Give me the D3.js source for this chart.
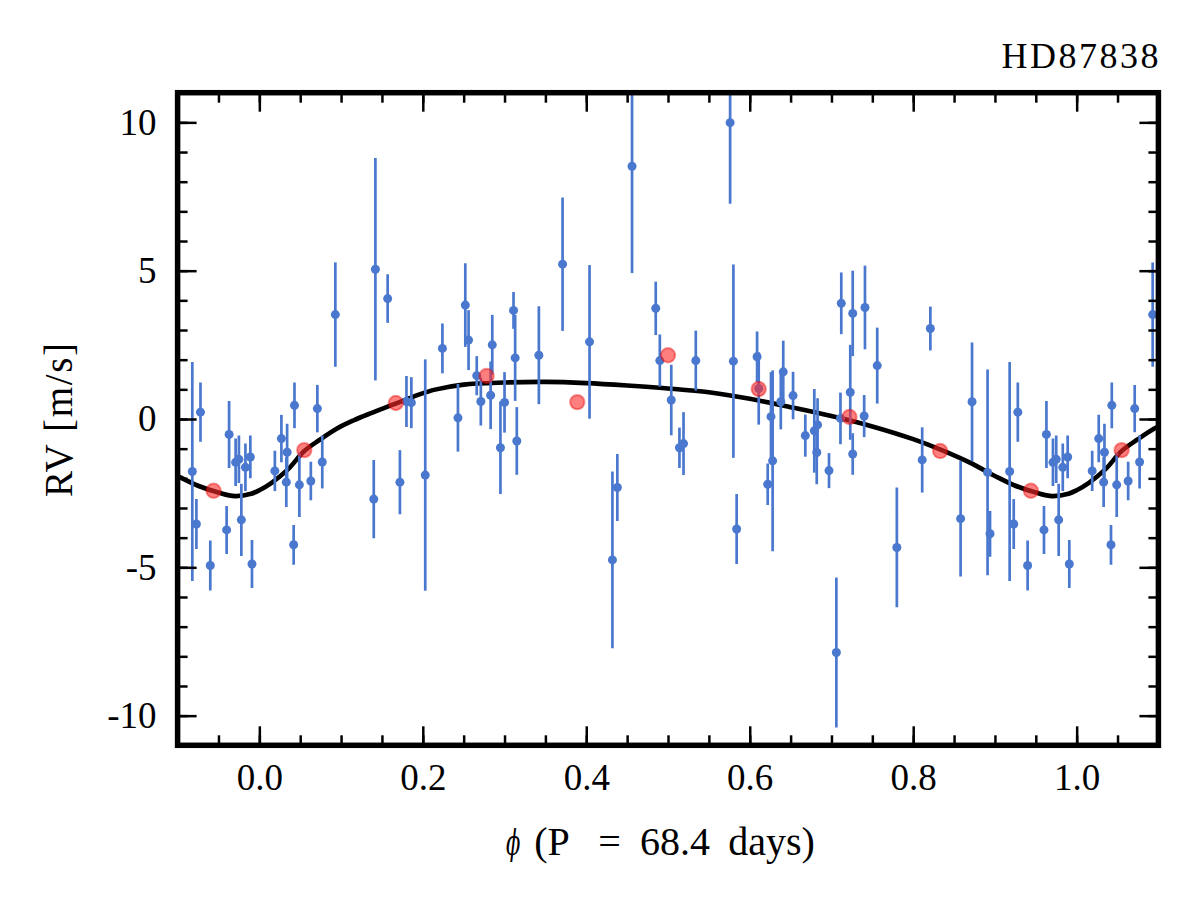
<!DOCTYPE html>
<html lang="en">
<head>
<meta charset="UTF-8">
<title>HD87838 phased RV</title>
<script src="https://cdn.jsdelivr.net/npm/d3@7"></script>
<style>
  body { margin: 0; background: #fff; }
  text { font-family: "Liberation Serif", "DejaVu Serif", serif; fill: #000; }
</style>
</head>
<body>
<svg></svg>
<script>
// observed RVs folded on P = 68.4 d  (phase, rv [m/s], error)
var obsPhase = [0.019,0.027,0.033,0.034,0.042,0.043,0.049,0.063,0.071,0.077,0.093,
  0.140,0.142,0.157,0.172,0.180,0.186,0.203,0.224,0.243,0.252,0.256,0.266,0.271,
  0.283,0.285,0.295,0.300,0.311,0.313,0.315,0.342,0.371,0.404,0.432,0.438,0.456,
  0.485,0.490,0.504,0.514,0.519,0.534,0.576,0.580,0.584,0.609,0.611,0.622,0.626,
  0.628,0.638,0.641,0.653,0.668,0.679,0.682,0.683,0.697,0.706,0.711,0.712,0.723,
  0.726,0.726,0.740,0.741,0.756,0.780,0.811,0.821,0.858,0.872,0.891,0.894,0.918,
  0.923,0.928,0.940,0.960,0.963,0.971,0.975,0.978,0.983,0.989,0.991];
var obsRV = [-1.75,-0.66,-2.13,-1.12,-4.24,0.46,-2.22,-2.09,0.35,-1.45,3.52,
  -2.70,5.05,4.06,-2.13,0.59,0.55,-1.89,2.38,0.04,3.84,2.66,1.46,0.59,
  0.80,2.50,-0.97,0.56,3.66,2.06,-0.74,2.15,5.22,2.60,-4.75,-2.31,8.52,
  3.73,1.97,0.64,-0.97,-0.83,1.97,9.99,1.95,-3.71,2.10,1.03,-2.20,0.08,
  -1.41,0.58,1.59,0.79,-0.56,-0.40,-1.13,-0.20,-1.74,-7.87,0.02,3.90,0.90,
  3.56,-1.18,0.10,3.76,1.80,-4.33,-1.38,3.05,-3.36,0.58,-1.80,-3.87,-1.77,
  -3.54,0.23,-4.94,-3.74,-0.52,-1.46,-1.36,-3.40,-1.63,-1.28,-4.89];
var obsErr = [0.68,0.80,0.84,0.96,0.67,0.77,1.08,0.65,0.80,0.89,1.76,
  1.32,3.75,0.82,1.08,0.86,0.86,3.90,0.84,1.14,1.41,1.01,0.66,0.81,
  1.14,1.01,1.56,1.02,0.62,1.45,1.14,1.65,2.25,2.59,2.98,1.13,3.60,
  0.90,0.88,1.19,0.68,1.06,1.01,2.73,3.26,1.18,0.85,1.22,0.70,1.50,
  3.05,0.93,1.05,0.80,0.71,1.41,1.07,0.90,0.59,2.53,0.87,1.04,1.60,
  1.44,0.70,0.71,1.41,1.28,2.02,1.10,0.74,1.95,2.00,3.47,0.77,3.69,
  0.84,1.00,0.84,0.81,1.13,0.80,0.80,1.22,0.80,0.72,0.81];

// binned RVs
var binPhase = [0.055,0.167,0.278,0.389,0.500,0.611,0.722,0.833,0.944];
var binRV = [-1.05,0.54,1.45,0.57,2.15,1.01,0.07,-1.08,-2.42];

// Keplerian model
var modelPhase = [0.000,0.015,0.035,0.055,0.075,0.095,0.115,0.135,0.165,0.195,0.215,
  0.250,0.300,0.350,0.400,0.450,0.500,0.550,0.600,0.650,0.700,0.750,0.800,
  0.835,0.870,0.900,0.925,0.950,0.970,0.990];
var modelRV = [-2.40,-2.15,-1.70,-1.08,-0.68,-0.32,-0.05,0.18,0.50,0.82,0.99,
  1.16,1.23,1.25,1.21,1.13,1.03,0.90,0.68,0.40,0.10,-0.25,-0.68,
  -1.05,-1.48,-1.92,-2.25,-2.48,-2.60,-2.52];

var xMajor = [0.0,0.2,0.4,0.6,0.8,1.0];
var xMinor = [-0.05,0.0,0.05,0.1,0.15,0.2,0.25,0.3,0.35,0.4,0.45,0.5,0.55,0.6,0.65,0.7,0.75,0.8,0.85,0.9,0.95,1.0,1.05];
var yMajor = [-10,-5,0,5,10];
var yMinor = [-10,-9,-8,-7,-6,-5,-4,-3,-2,-1,0,1,2,3,4,5,6,7,8,9,10];

var title = 'HD87838';
var xSymbol = '\u03D5';
var xLabelParts = ['(P', '=', '68.4', 'days)'];
var yLabel = 'RV [m/s]';

var margin = {top: 92.7, left: 177.6, right: 1200 - 1158.4, bottom: 900 - 745.3};
var width = 1200 - margin.left - margin.right;
var height = 900 - margin.top - margin.bottom;

var svgRoot = d3.select('svg').attr('width', 1200).attr('height', 900);
var svg = svgRoot.append('g')
  .attr('transform', 'translate(' + margin.left + ',' + margin.top + ')');

var x = d3.scaleLinear().domain([-0.1, 1.1]).range([0, width]);
var y = d3.scaleLinear().domain([-11, 11]).range([height, 0]);

svg.append('clipPath').attr('id', 'clip')
  .append('rect').attr('width', width).attr('height', height);

// fold everything onto -0.1..1.1
function wrap(ph, vals) {
  var out = [];
  ph.forEach(function (p, i) {
    [-1, 0, 1].forEach(function (s) {
      out.push({p: p + s, i: i, v: vals[i]});
    });
  });
  return out;
}

var obs = wrap(obsPhase, obsRV).filter(function (d) { return d.p >= -0.1 && d.p <= 1.1; });
obs.forEach(function (d) { d.e = obsErr[d.i]; });
var bins = wrap(binPhase, binRV).filter(function (d) { return d.p >= -0.1 && d.p <= 1.1; });
var model = wrap(modelPhase, modelRV)
  .filter(function (d) { return d.p >= -0.16 && d.p <= 1.16; })
  .sort(function (a, b) { return a.p - b.p; });

var plot = svg.append('g').attr('clip-path', 'url(#clip)');

var line = d3.line()
  .x(function (d) { return x(d.p); })
  .y(function (d) { return y(d.v); })
  .curve(d3.curveCatmullRom.alpha(0.5));

plot.append('path')
  .datum(model)
  .attr('fill', 'none')
  .attr('stroke', '#000')
  .attr('stroke-width', 4.6)
  .attr('stroke-linejoin', 'round')
  .attr('d', line);

var blue = '#4a78cf';
plot.selectAll('.err').data(obs).enter().append('line')
  .attr('x1', function (d) { return x(d.p); })
  .attr('x2', function (d) { return x(d.p); })
  .attr('y1', function (d) { return y(d.v - d.e); })
  .attr('y2', function (d) { return y(d.v + d.e); })
  .attr('stroke', blue)
  .attr('stroke-width', 2.7);

plot.selectAll('.pt').data(obs).enter().append('circle')
  .attr('cx', function (d) { return x(d.p); })
  .attr('cy', function (d) { return y(d.v); })
  .attr('r', 4.5)
  .attr('fill', blue);

plot.selectAll('.bin').data(bins).enter().append('circle')
  .attr('cx', function (d) { return x(d.p); })
  .attr('cy', function (d) { return y(d.v); })
  .attr('r', 7.2)
  .attr('fill', '#ff2a2a')
  .attr('fill-opacity', 0.6)
  .attr('stroke', '#e00000')
  .attr('stroke-opacity', 0.4)
  .attr('stroke-width', 2);

// ticks, inward on all four sides
function tickStyle(g) {
  g.select('.domain').remove();
  g.selectAll('.tick line').attr('stroke', '#000').attr('stroke-width', 2.5);
  g.selectAll('.tick text').style('font-size', '37px')
    .style('font-family', '"Liberation Serif", "DejaVu Serif", serif');
}

svg.append('g').attr('transform', 'translate(0,' + height + ')')
  .call(d3.axisBottom(x).tickValues(xMinor).tickSize(-10).tickFormat(''))
  .call(tickStyle);
svg.append('g').attr('transform', 'translate(0,' + height + ')')
  .call(d3.axisBottom(x).tickValues(xMajor).tickSize(-19).tickPadding(18)
    .tickFormat(d3.format('.1f')))
  .call(tickStyle);
svg.append('g')
  .call(d3.axisTop(x).tickValues(xMinor).tickSize(-10).tickFormat(''))
  .call(tickStyle);
svg.append('g')
  .call(d3.axisTop(x).tickValues(xMajor).tickSize(-19).tickFormat(''))
  .call(tickStyle);

svg.append('g')
  .call(d3.axisLeft(y).tickValues(yMinor).tickSize(-10).tickFormat(''))
  .call(tickStyle);
svg.append('g')
  .call(d3.axisLeft(y).tickValues(yMajor).tickSize(-19).tickPadding(21)
    .tickFormat(function (d) { return String(d); }))
  .call(tickStyle);
svg.append('g').attr('transform', 'translate(' + width + ',0)')
  .call(d3.axisRight(y).tickValues(yMinor).tickSize(-10).tickFormat(''))
  .call(tickStyle);
svg.append('g').attr('transform', 'translate(' + width + ',0)')
  .call(d3.axisRight(y).tickValues(yMajor).tickSize(-19).tickFormat(''))
  .call(tickStyle);

// frame
svg.append('rect')
  .attr('width', width).attr('height', height)
  .attr('fill', 'none')
  .attr('stroke', '#000')
  .attr('stroke-width', 5.5);

// labels
svgRoot.append('text')
  .attr('x', 1158.4).attr('y', 67.5)
  .attr('text-anchor', 'end')
  .attr('textLength', 157)
  .attr('lengthAdjust', 'spacing')
  .style('font-size', '36px')
  .text(title);

svgRoot.append('text')
  .attr('transform', 'translate(506,855) scale(0.62,1.05)')
  .style('font-size', '34px')
  .style('font-style', 'italic')
  .style('font-family', '"DejaVu Serif", serif')
  .text(xSymbol);

// groups centred where the LaTeX label puts them
var xLabelCentres = [552, 609.5, 675, 771.5];
svgRoot.selectAll('.xlab').data(xLabelParts).enter().append('text')
  .attr('x', function (d, i) { return xLabelCentres[i]; })
  .attr('y', 855)
  .attr('text-anchor', 'middle')
  .style('font-size', '40px')
  .text(function (d) { return d; });

svgRoot.append('text')
  .attr('transform', 'translate(72,420) rotate(-90)')
  .attr('text-anchor', 'middle')
  .attr('textLength', 154)
  .attr('lengthAdjust', 'spacing')
  .style('font-size', '39px')
  .text(yLabel);
</script>
</body>
</html>
